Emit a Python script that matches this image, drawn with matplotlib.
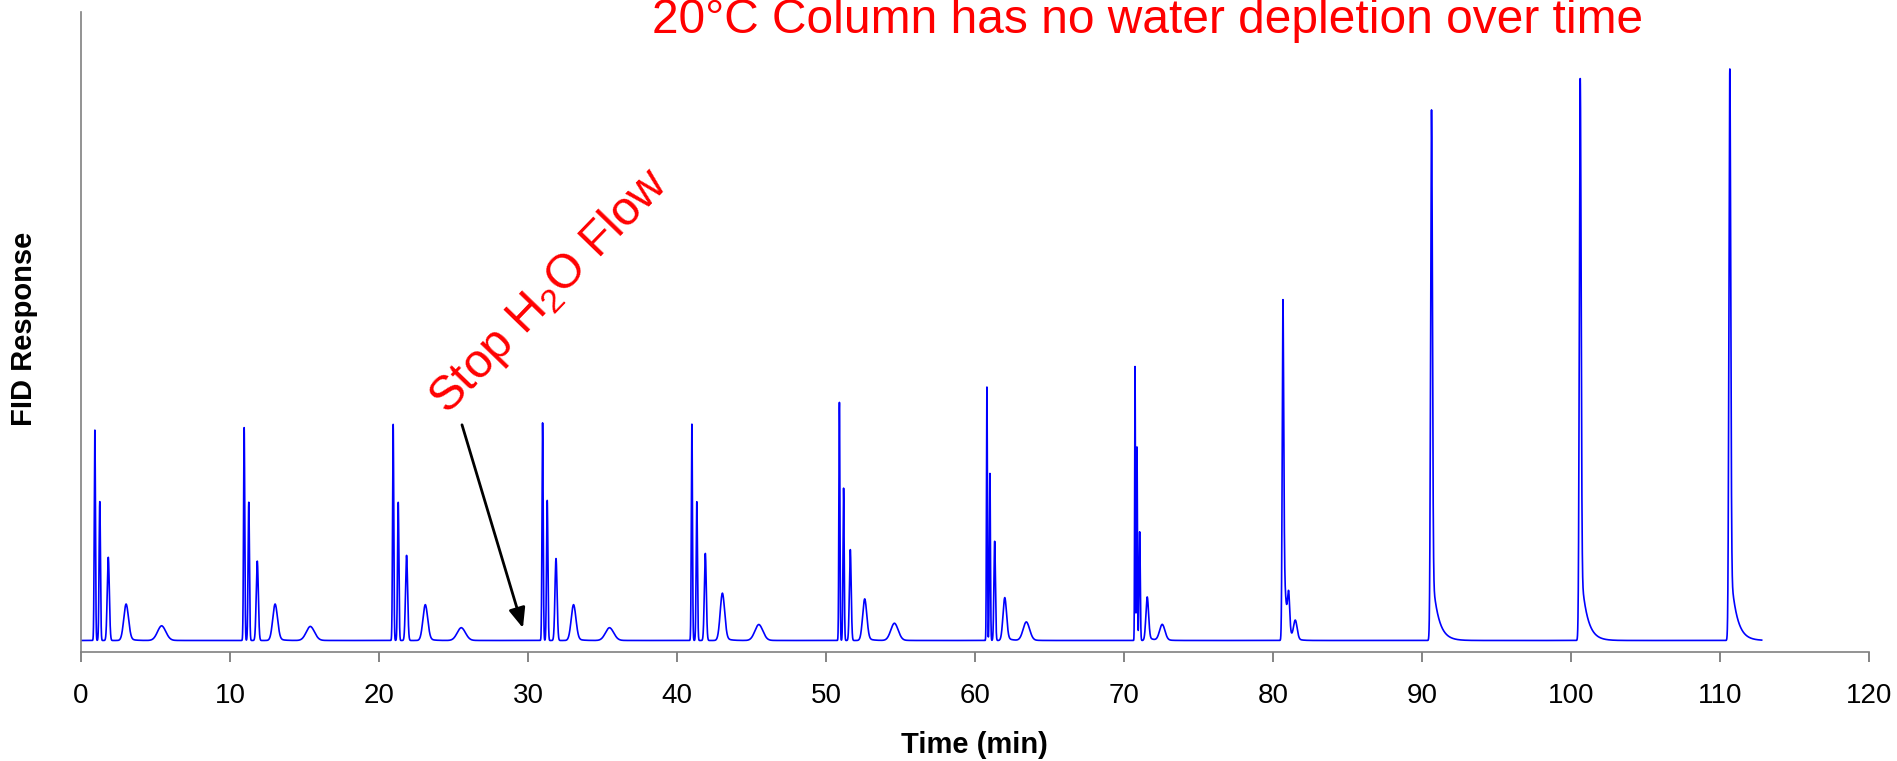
import numpy as np
import matplotlib
matplotlib.use("Agg")
import matplotlib.pyplot as plt

plt.rcParams['font.family'] = ['Liberation Sans', 'DejaVu Sans']

# peak table (time in min, height above baseline)
peak_time = [0.93, 1.26, 1.83, 3.03, 5.42,
             10.95, 11.26, 11.83, 13.03, 15.40,
             20.95, 21.29, 21.85, 23.11, 25.53,
             30.98, 31.29, 31.88, 33.06, 35.48,
             41.00, 41.33, 41.90, 43.05, 45.50,
             50.90, 51.18, 51.63, 52.60, 54.60,
             60.80, 61.00, 61.32, 62.00, 63.45,
             70.74, 70.87, 71.05, 71.56, 72.57,
             80.67, 81.05, 81.50,
             90.64, 100.62, 110.66]
peak_height = [32.9, 21.7, 13.0, 5.7, 2.3,
               33.3, 21.6, 12.4, 5.7, 2.2,
               33.8, 21.6, 13.3, 5.6, 2.0,
               34.0, 21.9, 12.8, 5.6, 2.0,
               33.8, 21.7, 13.6, 7.4, 2.5,
               37.2, 23.8, 14.2, 6.5, 2.7,
               39.6, 26.1, 15.5, 6.7, 2.9,
               42.8, 30.3, 17.0, 6.8, 2.5,
               53.3, 5.5, 3.0,
               82.9, 87.8, 89.3]
peak_sigma = [0.040, 0.045, 0.070, 0.160, 0.280,
              0.040, 0.045, 0.070, 0.160, 0.280,
              0.040, 0.045, 0.070, 0.160, 0.280,
              0.040, 0.045, 0.070, 0.160, 0.280,
              0.038, 0.043, 0.065, 0.150, 0.270,
              0.035, 0.040, 0.060, 0.140, 0.250,
              0.030, 0.035, 0.050, 0.120, 0.220,
              0.025, 0.030, 0.040, 0.090, 0.180,
              0.050, 0.070, 0.120,
              0.060, 0.060, 0.060]
# fraction of each peak that decays as an exponential tail, and its decay time
peak_tail = [0, 0, 0, 0.1, 0.1,
             0, 0, 0, 0.1, 0.1,
             0, 0, 0, 0.1, 0.1,
             0, 0, 0, 0.1, 0.1,
             0, 0, 0, 0.1, 0.1,
             0, 0, 0, 0.1, 0.1,
             0, 0, 0, 0.1, 0.1,
             0, 0, 0, 0.1, 0.1,
             0.35, 0, 0.1,
             0.14, 0.14, 0.14]
peak_tau = [0.3] * 40 + [0.18, 0.3, 0.3, 0.4, 0.4, 0.4]
baseline = 1.8
run_end = 112.8

x_ticks = np.arange(0, 121, 10)
title = "20°C Column has no water depletion over time"


def peak(t, t0, h, s, a, tau):
    dt = t - t0
    g = np.exp(-0.5 * (dt / s) ** 2)
    tail = np.exp(-np.clip(dt, 0, None) / tau)
    right = (1 - a) * g + a * tail
    return h * np.where(dt < 0, g, right)


t = np.arange(0, run_end, 0.004)
signal = np.full_like(t, baseline)
for t0, h, s, a, tau in zip(peak_time, peak_height, peak_sigma, peak_tail, peak_tau):
    signal += peak(t, t0, h, s, a, tau)

fig = plt.figure(figsize=(18.97, 7.61), dpi=100)
ax = fig.add_axes([81 / 1897, 1 - 652 / 761, (1869 - 81) / 1897, 640 / 761])

ax.plot(t, signal, color='#0000ff', lw=1.2)
ax.set_xlim(0, 120)
ax.set_ylim(0, 100)
ax.set_xticks(x_ticks)
ax.set_yticks([])
ax.tick_params(axis='x', direction='out', length=7, width=1.2, color='#707070',
               labelsize=20, pad=15)
for side in ['top', 'right']:
    ax.spines[side].set_visible(False)
for side in ['left', 'bottom']:
    ax.spines[side].set_color('#808080')
    ax.spines[side].set_linewidth(1.2)

fig.text(0.5137, 1 - 745 / 761, "Time (min)", ha='center', va='center',
         fontsize=21, fontweight='bold')
fig.text(24 / 1897, 1 - 329 / 761, "FID Response", ha='center', va='center',
         rotation=90, fontsize=21, fontweight='bold')

fig.text(652 / 1897, 1 - 33 / 761, title, ha='left', va='baseline',
         fontsize=34.5, color='#ff0000')

ax.text(24.6, 37.0, r"Stop H$_\mathregular{2}$O Flow", rotation=46,
        rotation_mode='anchor', ha='left', va='baseline', fontsize=34.5,
        color='#ff0000')
ax.annotate('', xy=(29.66, 3.75), xytext=(25.57, 35.5),
            arrowprops=dict(arrowstyle='-|>,head_length=0.6,head_width=0.25',
                            color='black', lw=2, mutation_scale=20,
                            shrinkA=0, shrinkB=0))

fig.savefig('out.png', dpi=100)
